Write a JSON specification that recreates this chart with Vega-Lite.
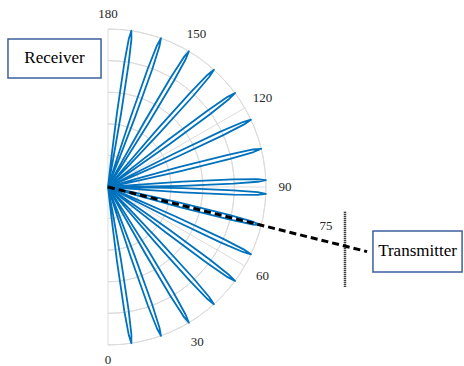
{
  "$schema": "https://vega.github.io/schema/vega-lite/v6.json",
  "width": 464,
  "height": 366,
  "autosize": "none",
  "padding": 0,
  "background": "white",
  "config": {"view": {"stroke": null}, "axis": {"disable": true}},
  "datasets": {
    "rings": [{"r": 0.2}, {"r": 0.4}, {"r": 0.6}, {"r": 0.8}, {"r": 1.0}],
    "spokes": [{"a": 0, "r": 1}, {"a": 30, "r": 1}, {"a": 60, "r": 1}, {"a": 90, "r": 1}, {"a": 120, "r": 1}, {"a": 150, "r": 1}, {"a": 180, "r": 1}],
    "ticks": [{"t": "0", "a": 0, "r": 1.095}, {"t": "30", "a": 30, "r": 1.13}, {"t": "60", "a": 60, "r": 1.13}, {"t": "90", "a": 90, "r": 1.12}, {"t": "120", "a": 120, "r": 1.13}, {"t": "150", "a": 150, "r": 1.12}, {"t": "180", "a": 180, "r": 1.095}],
    "beam": [{"a": 76, "r": 0}, {"a": 76, "r": 1.69}],
    "lobes": [
      {"l":1,"i":0,"a":6.3,"r":0},{"l":1,"i":1,"a":6.5,"r":0.174},{"l":1,"i":2,"a":6.9,"r":0.471},{"l":1,"i":3,"a":7.5,"r":0.793},{"l":1,"i":4,"a":8.0,"r":0.948},{"l":1,"i":5,"a":8.5,"r":1},{"l":1,"i":6,"a":9.0,"r":0.948},{"l":1,"i":7,"a":9.5,"r":0.793},{"l":1,"i":8,"a":10.1,"r":0.471},{"l":1,"i":9,"a":10.5,"r":0.174},{"l":1,"i":10,"a":10.7,"r":0},
      {"l":2,"i":0,"a":17.4,"r":0},{"l":2,"i":1,"a":17.6,"r":0.174},{"l":2,"i":2,"a":18.0,"r":0.471},{"l":2,"i":3,"a":18.6,"r":0.793},{"l":2,"i":4,"a":19.1,"r":0.948},{"l":2,"i":5,"a":19.6,"r":1},{"l":2,"i":6,"a":20.1,"r":0.948},{"l":2,"i":7,"a":20.6,"r":0.793},{"l":2,"i":8,"a":21.2,"r":0.471},{"l":2,"i":9,"a":21.6,"r":0.174},{"l":2,"i":10,"a":21.8,"r":0},
      {"l":3,"i":0,"a":28.6,"r":0},{"l":3,"i":1,"a":28.8,"r":0.174},{"l":3,"i":2,"a":29.2,"r":0.471},{"l":3,"i":3,"a":29.8,"r":0.793},{"l":3,"i":4,"a":30.3,"r":0.948},{"l":3,"i":5,"a":30.8,"r":1},{"l":3,"i":6,"a":31.3,"r":0.948},{"l":3,"i":7,"a":31.8,"r":0.793},{"l":3,"i":8,"a":32.4,"r":0.471},{"l":3,"i":9,"a":32.8,"r":0.174},{"l":3,"i":10,"a":33.0,"r":0},
      {"l":4,"i":0,"a":39.9,"r":0},{"l":4,"i":1,"a":40.1,"r":0.174},{"l":4,"i":2,"a":40.5,"r":0.471},{"l":4,"i":3,"a":41.1,"r":0.793},{"l":4,"i":4,"a":41.6,"r":0.948},{"l":4,"i":5,"a":42.1,"r":1},{"l":4,"i":6,"a":42.6,"r":0.948},{"l":4,"i":7,"a":43.1,"r":0.793},{"l":4,"i":8,"a":43.7,"r":0.471},{"l":4,"i":9,"a":44.1,"r":0.174},{"l":4,"i":10,"a":44.3,"r":0},
      {"l":5,"i":0,"a":51.3,"r":0},{"l":5,"i":1,"a":51.5,"r":0.174},{"l":5,"i":2,"a":51.9,"r":0.471},{"l":5,"i":3,"a":52.5,"r":0.793},{"l":5,"i":4,"a":53.0,"r":0.948},{"l":5,"i":5,"a":53.5,"r":1},{"l":5,"i":6,"a":54.0,"r":0.948},{"l":5,"i":7,"a":54.5,"r":0.793},{"l":5,"i":8,"a":55.1,"r":0.471},{"l":5,"i":9,"a":55.5,"r":0.174},{"l":5,"i":10,"a":55.7,"r":0},
      {"l":6,"i":0,"a":62.6,"r":0},{"l":6,"i":1,"a":62.8,"r":0.174},{"l":6,"i":2,"a":63.2,"r":0.471},{"l":6,"i":3,"a":63.8,"r":0.793},{"l":6,"i":4,"a":64.3,"r":0.948},{"l":6,"i":5,"a":64.8,"r":1},{"l":6,"i":6,"a":65.3,"r":0.948},{"l":6,"i":7,"a":65.8,"r":0.793},{"l":6,"i":8,"a":66.4,"r":0.471},{"l":6,"i":9,"a":66.8,"r":0.174},{"l":6,"i":10,"a":67.0,"r":0},
      {"l":7,"i":0,"a":73.8,"r":0},{"l":7,"i":1,"a":74.0,"r":0.174},{"l":7,"i":2,"a":74.4,"r":0.471},{"l":7,"i":3,"a":75.0,"r":0.793},{"l":7,"i":4,"a":75.5,"r":0.948},{"l":7,"i":5,"a":76.0,"r":1},{"l":7,"i":6,"a":76.5,"r":0.948},{"l":7,"i":7,"a":77.0,"r":0.793},{"l":7,"i":8,"a":77.6,"r":0.471},{"l":7,"i":9,"a":78.0,"r":0.174},{"l":7,"i":10,"a":78.2,"r":0},
      {"l":8,"i":0,"a":85.3,"r":0},{"l":8,"i":1,"a":85.5,"r":0.174},{"l":8,"i":2,"a":85.9,"r":0.471},{"l":8,"i":3,"a":86.5,"r":0.793},{"l":8,"i":4,"a":87.0,"r":0.948},{"l":8,"i":5,"a":87.5,"r":1},{"l":8,"i":6,"a":88.0,"r":0.948},{"l":8,"i":7,"a":88.5,"r":0.793},{"l":8,"i":8,"a":89.1,"r":0.471},{"l":8,"i":9,"a":89.5,"r":0.174},{"l":8,"i":10,"a":89.7,"r":0},
      {"l":9,"i":0,"a":90.3,"r":0},{"l":9,"i":1,"a":90.5,"r":0.174},{"l":9,"i":2,"a":90.9,"r":0.471},{"l":9,"i":3,"a":91.5,"r":0.793},{"l":9,"i":4,"a":92.0,"r":0.948},{"l":9,"i":5,"a":92.5,"r":1},{"l":9,"i":6,"a":93.0,"r":0.948},{"l":9,"i":7,"a":93.5,"r":0.793},{"l":9,"i":8,"a":94.1,"r":0.471},{"l":9,"i":9,"a":94.5,"r":0.174},{"l":9,"i":10,"a":94.7,"r":0},
      {"l":10,"i":0,"a":101.8,"r":0},{"l":10,"i":1,"a":102.0,"r":0.174},{"l":10,"i":2,"a":102.4,"r":0.471},{"l":10,"i":3,"a":103.0,"r":0.793},{"l":10,"i":4,"a":103.5,"r":0.948},{"l":10,"i":5,"a":104.0,"r":1},{"l":10,"i":6,"a":104.5,"r":0.948},{"l":10,"i":7,"a":105.0,"r":0.793},{"l":10,"i":8,"a":105.6,"r":0.471},{"l":10,"i":9,"a":106.0,"r":0.174},{"l":10,"i":10,"a":106.2,"r":0},
      {"l":11,"i":0,"a":113.0,"r":0},{"l":11,"i":1,"a":113.2,"r":0.174},{"l":11,"i":2,"a":113.6,"r":0.471},{"l":11,"i":3,"a":114.2,"r":0.793},{"l":11,"i":4,"a":114.7,"r":0.948},{"l":11,"i":5,"a":115.2,"r":1},{"l":11,"i":6,"a":115.7,"r":0.948},{"l":11,"i":7,"a":116.2,"r":0.793},{"l":11,"i":8,"a":116.8,"r":0.471},{"l":11,"i":9,"a":117.2,"r":0.174},{"l":11,"i":10,"a":117.4,"r":0},
      {"l":12,"i":0,"a":124.3,"r":0},{"l":12,"i":1,"a":124.5,"r":0.174},{"l":12,"i":2,"a":124.9,"r":0.471},{"l":12,"i":3,"a":125.5,"r":0.793},{"l":12,"i":4,"a":126.0,"r":0.948},{"l":12,"i":5,"a":126.5,"r":1},{"l":12,"i":6,"a":127.0,"r":0.948},{"l":12,"i":7,"a":127.5,"r":0.793},{"l":12,"i":8,"a":128.1,"r":0.471},{"l":12,"i":9,"a":128.5,"r":0.174},{"l":12,"i":10,"a":128.7,"r":0},
      {"l":13,"i":0,"a":135.7,"r":0},{"l":13,"i":1,"a":135.9,"r":0.174},{"l":13,"i":2,"a":136.3,"r":0.471},{"l":13,"i":3,"a":136.9,"r":0.793},{"l":13,"i":4,"a":137.4,"r":0.948},{"l":13,"i":5,"a":137.9,"r":1},{"l":13,"i":6,"a":138.4,"r":0.948},{"l":13,"i":7,"a":138.9,"r":0.793},{"l":13,"i":8,"a":139.5,"r":0.471},{"l":13,"i":9,"a":139.9,"r":0.174},{"l":13,"i":10,"a":140.1,"r":0},
      {"l":14,"i":0,"a":147.0,"r":0},{"l":14,"i":1,"a":147.2,"r":0.174},{"l":14,"i":2,"a":147.6,"r":0.471},{"l":14,"i":3,"a":148.2,"r":0.793},{"l":14,"i":4,"a":148.7,"r":0.948},{"l":14,"i":5,"a":149.2,"r":1},{"l":14,"i":6,"a":149.7,"r":0.948},{"l":14,"i":7,"a":150.2,"r":0.793},{"l":14,"i":8,"a":150.8,"r":0.471},{"l":14,"i":9,"a":151.2,"r":0.174},{"l":14,"i":10,"a":151.4,"r":0},
      {"l":15,"i":0,"a":158.2,"r":0},{"l":15,"i":1,"a":158.4,"r":0.174},{"l":15,"i":2,"a":158.8,"r":0.471},{"l":15,"i":3,"a":159.4,"r":0.793},{"l":15,"i":4,"a":159.9,"r":0.948},{"l":15,"i":5,"a":160.4,"r":1},{"l":15,"i":6,"a":160.9,"r":0.948},{"l":15,"i":7,"a":161.4,"r":0.793},{"l":15,"i":8,"a":162.0,"r":0.471},{"l":15,"i":9,"a":162.4,"r":0.174},{"l":15,"i":10,"a":162.6,"r":0},
      {"l":16,"i":0,"a":169.3,"r":0},{"l":16,"i":1,"a":169.5,"r":0.174},{"l":16,"i":2,"a":169.9,"r":0.471},{"l":16,"i":3,"a":170.5,"r":0.793},{"l":16,"i":4,"a":171.0,"r":0.948},{"l":16,"i":5,"a":171.5,"r":1},{"l":16,"i":6,"a":172.0,"r":0.948},{"l":16,"i":7,"a":172.5,"r":0.793},{"l":16,"i":8,"a":173.1,"r":0.471},{"l":16,"i":9,"a":173.5,"r":0.174},{"l":16,"i":10,"a":173.7,"r":0}
    ],
    "boxes": [
      {"label": "Receiver", "x1": -0.633, "x2": -0.044, "y1": 0.937, "y2": 0.69},
      {"label": "Transmitter", "x1": 1.677, "x2": 2.241, "y1": -0.278, "y2": -0.538}
    ],
    "marker": [{"x": 1.5, "y1": -0.156, "y2": -0.631, "t": "75", "tx": 1.38, "ty": -0.247}]
  },
  "layer": [
    {
      "data": {"name": "rings"},
      "transform": [{"calculate": "0", "as": "z"}],
      "mark": {"type": "arc", "filled": false, "stroke": "#DCDCDC", "strokeWidth": 1, "theta": 0, "theta2": 3.14159265},
      "encoding": {
        "x": {"field": "z", "type": "quantitative", "scale": {"domain": [-0.6835, 2.2532], "nice": false, "zero": false}, "axis": null},
        "y": {"field": "z", "type": "quantitative", "scale": {"domain": [-1.1329, 1.1835], "nice": false, "zero": false}, "axis": null},
        "radius": {"field": "r", "type": "quantitative", "scale": {"type": "linear", "domain": [0, 1], "range": [0, 158], "zero": true}},
        "radius2": {"field": "r"}
      }
    },
    {
      "data": {"name": "spokes"},
      "transform": [
        {"calculate": "0", "as": "z"},
        {"calculate": "datum.r*sin(datum.a*PI/180)", "as": "px"},
        {"calculate": "-datum.r*cos(datum.a*PI/180)", "as": "py"}
      ],
      "mark": {"type": "rule", "stroke": "#DCDCDC", "strokeWidth": 1},
      "encoding": {
        "x": {"field": "z", "type": "quantitative"},
        "y": {"field": "z", "type": "quantitative"},
        "x2": {"field": "px"},
        "y2": {"field": "py"}
      }
    },
    {
      "data": {"name": "lobes"},
      "transform": [
        {"calculate": "datum.r*sin(datum.a*PI/180)", "as": "px"},
        {"calculate": "-datum.r*cos(datum.a*PI/180)", "as": "py"}
      ],
      "mark": {"type": "line", "stroke": "#0072BD", "strokeWidth": 1.8, "strokeJoin": "round"},
      "encoding": {
        "x": {"field": "px", "type": "quantitative"},
        "y": {"field": "py", "type": "quantitative"},
        "detail": {"field": "l", "type": "nominal"},
        "order": {"field": "i", "type": "quantitative"}
      }
    },
    {
      "data": {"name": "ticks"},
      "transform": [
        {"calculate": "datum.r*sin(datum.a*PI/180)", "as": "px"},
        {"calculate": "-datum.r*cos(datum.a*PI/180)", "as": "py"}
      ],
      "mark": {"type": "text", "font": "Liberation Serif", "fontSize": 13, "color": "#262626", "align": "center", "baseline": "middle"},
      "encoding": {
        "x": {"field": "px", "type": "quantitative"},
        "y": {"field": "py", "type": "quantitative"},
        "text": {"field": "t", "type": "nominal"}
      }
    },
    {
      "data": {"name": "beam"},
      "transform": [
        {"calculate": "datum.r*sin(datum.a*PI/180)", "as": "px"},
        {"calculate": "-datum.r*cos(datum.a*PI/180)", "as": "py"}
      ],
      "mark": {"type": "line", "stroke": "black", "strokeWidth": 3, "strokeDash": [7, 4]},
      "encoding": {
        "x": {"field": "px", "type": "quantitative"},
        "y": {"field": "py", "type": "quantitative"},
        "order": {"field": "r", "type": "quantitative"}
      }
    },
    {
      "data": {"name": "marker"},
      "mark": {"type": "rule", "stroke": "black", "strokeWidth": 2.5, "strokeDash": [1, 1]},
      "encoding": {
        "x": {"field": "x", "type": "quantitative"},
        "y": {"field": "y1", "type": "quantitative"},
        "y2": {"field": "y2"}
      }
    },
    {
      "data": {"name": "marker"},
      "mark": {"type": "text", "font": "Liberation Serif", "fontSize": 13, "color": "#262626", "align": "center", "baseline": "middle"},
      "encoding": {
        "x": {"field": "tx", "type": "quantitative"},
        "y": {"field": "ty", "type": "quantitative"},
        "text": {"field": "t", "type": "nominal"}
      }
    },
    {
      "data": {"name": "boxes"},
      "mark": {"type": "rect", "fill": "white", "stroke": "#3D5F9F", "strokeWidth": 1.5},
      "encoding": {
        "x": {"field": "x1", "type": "quantitative"},
        "x2": {"field": "x2"},
        "y": {"field": "y1", "type": "quantitative"},
        "y2": {"field": "y2"}
      }
    },
    {
      "data": {"name": "boxes"},
      "transform": [
        {"calculate": "(datum.x1+datum.x2)/2", "as": "cx"},
        {"calculate": "(datum.y1+datum.y2)/2", "as": "cy"}
      ],
      "mark": {"type": "text", "font": "Liberation Serif", "fontSize": 17, "color": "black", "align": "center", "baseline": "middle"},
      "encoding": {
        "x": {"field": "cx", "type": "quantitative"},
        "y": {"field": "cy", "type": "quantitative"},
        "text": {"field": "label", "type": "nominal"}
      }
    }
  ]
}
